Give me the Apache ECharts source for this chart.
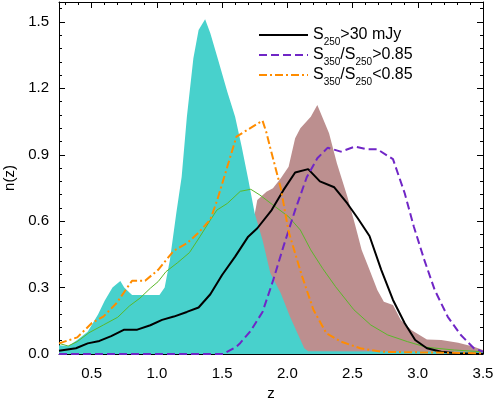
<!DOCTYPE html>
<html>
<head>
<meta charset="utf-8">
<script src="https://cdn.jsdelivr.net/npm/echarts@6/dist/echarts.min.js"></script>
<style>html,body{margin:0;padding:0;background:#fff}#c{width:495px;height:398px}</style>
</head>
<body>
<div id="c"></div>
<script>
// ---- data ----
var xMajorTicks = [0.5, 1.0, 1.5, 2.0, 2.5, 3.0, 3.5];
var yMajorTicks = [0.0, 0.3, 0.6, 0.9, 1.2, 1.5];

var cyanZ = [0.25,0.32,0.39,0.47,0.55,0.60,0.66,0.72,0.75,0.81,0.92,1.02,1.06,1.10,1.15,1.19,1.23,1.28,1.32,1.37,1.41,1.47,1.54,1.60,1.65,1.70,1.75,1.81,1.87,1.95,2.02,2.09,2.13,2.16,3.50];
var cyanN = [0.04,0.035,0.063,0.10,0.18,0.24,0.30,0.33,0.30,0.267,0.267,0.267,0.30,0.425,0.64,0.80,1.07,1.336,1.464,1.512,1.449,1.328,1.185,1.072,0.937,0.79,0.636,0.515,0.365,0.274,0.169,0.078,0.026,0.012,0.010];

var brownZ = [1.70,1.74,1.77,1.84,1.89,1.95,2.01,2.06,2.10,2.18,2.23,2.32,2.38,2.46,2.52,2.57,2.63,2.69,2.74,2.81,2.87,2.95,3.07,3.18,3.31,3.43,3.50];
var brownN = [0.0,0.60,0.696,0.733,0.749,0.794,0.846,0.975,1.02,1.072,1.125,0.997,0.862,0.711,0.583,0.47,0.38,0.289,0.236,0.221,0.154,0.108,0.066,0.063,0.051,0.033,0.018];

var allZ = [0.25,0.38,0.47,0.56,0.65,0.75,0.85,0.95,1.04,1.13,1.23,1.32,1.41,1.50,1.60,1.70,1.77,1.88,1.97,2.06,2.16,2.25,2.36,2.46,2.54,2.63,2.72,2.81,2.90,2.98,3.07,3.18,3.30,3.50];
var allN = [0.015,0.026,0.048,0.059,0.081,0.11,0.11,0.13,0.154,0.169,0.19,0.21,0.27,0.357,0.44,0.53,0.568,0.65,0.74,0.82,0.835,0.78,0.753,0.68,0.613,0.533,0.38,0.244,0.139,0.063,0.026,0.01,0.003,0.0];

var hiZ = [0.25,1.51,1.61,1.64,1.72,1.81,1.89,1.97,2.06,2.15,2.23,2.31,2.41,2.52,2.61,2.69,2.81,2.90,2.97,3.05,3.13,3.23,3.33,3.43,3.50];
var hiN = [0.0,0.0,0.033,0.05,0.105,0.19,0.33,0.485,0.65,0.80,0.884,0.932,0.914,0.937,0.925,0.925,0.88,0.726,0.575,0.425,0.289,0.168,0.086,0.026,0.01];

var loZ = [0.25,0.39,0.50,0.59,0.69,0.81,0.91,1.01,1.13,1.23,1.32,1.41,1.46,1.61,1.81,1.84,1.87,1.95,2.01,2.11,2.20,2.30,2.41,2.56,2.72,3.50];
var loN = [0.048,0.075,0.139,0.169,0.229,0.331,0.331,0.38,0.467,0.50,0.548,0.608,0.69,0.982,1.054,1.0,0.93,0.749,0.553,0.357,0.20,0.093,0.056,0.026,0.01,0.003];

var greenZ = [0.25,0.32,0.39,0.48,0.59,0.70,0.79,0.87,0.95,1.01,1.07,1.16,1.25,1.33,1.41,1.46,1.54,1.64,1.72,1.79,1.89,2.01,2.10,2.18,2.27,2.37,2.51,2.64,2.77,2.92,3.07,3.28,3.50];
var greenN = [0.048,0.036,0.056,0.096,0.131,0.166,0.217,0.252,0.297,0.327,0.372,0.413,0.458,0.53,0.605,0.65,0.68,0.735,0.744,0.718,0.673,0.62,0.56,0.47,0.387,0.304,0.20,0.131,0.086,0.056,0.03,0.018,0.01];

var legendNames = ['S250>30 mJy', 'S350/S250>0.85', 'S350/S250<0.85'];
var legendRich = {
  'S250>30 mJy': '{s|S}{b|250}{s|>30 mJy}',
  'S350/S250>0.85': '{s|S}{b|350}{s|/S}{b|250}{s|>0.85}',
  'S350/S250<0.85': '{s|S}{b|350}{s|/S}{b|250}{s|<0.85}'
};

// ---- build ----
function zip(a, b) { return a.map(function (v, i) { return [v, b[i]]; }); }
function steps(from, to, step) { var r = []; for (var v = from; v <= to + 1e-9; v += step) r.push(Math.round(v * 1000) / 1000); return r; }
var xMinor = steps(0.3, 3.4, 0.1);
var yMinor = steps(0.06, 1.56, 0.06);
var FONT = 'Liberation Sans';

function xAx(pos, major, labels) {
  return {
    type: 'value', min: 0.25, max: 3.5, position: pos,
    axisLine: { show: major, onZero: false, lineStyle: { color: '#000', width: 1 } },
    splitLine: { show: false },
    axisTick: { show: true, inside: true, length: major ? 6 : 3, lineStyle: { color: '#000', width: 1 }, customValues: major ? xMajorTicks : xMinor },
    axisLabel: labels ? { show: true, customValues: xMajorTicks, formatter: function (v) { return v.toFixed(1); }, color: '#000', fontFamily: FONT, fontSize: 15, margin: 12 } : { show: false },
    name: labels ? 'z' : '', nameLocation: 'middle', nameGap: 31,
    nameTextStyle: { color: '#000', fontFamily: FONT, fontSize: 15 }
  };
}
function yAx(pos, major, labels) {
  return {
    type: 'value', min: 0, max: 1.59, position: pos,
    axisLine: { show: major, onZero: false, lineStyle: { color: '#000', width: 1 } },
    splitLine: { show: false },
    axisTick: { show: true, inside: true, length: major ? 6 : 3, lineStyle: { color: '#000', width: 1 }, customValues: major ? yMajorTicks : yMinor },
    axisLabel: labels ? { show: true, customValues: yMajorTicks, formatter: function (v) { return v.toFixed(1); }, color: '#000', fontFamily: FONT, fontSize: 15, margin: 10 } : { show: false },
    name: labels ? 'n(z)' : '', nameLocation: 'middle', nameGap: 37,
    nameTextStyle: { color: '#000', fontFamily: FONT, fontSize: 15 }
  };
}

var rich = {
  s: { fontSize: 16, fontFamily: FONT, color: '#000', lineHeight: 17, verticalAlign: 'middle' },
  b: { fontSize: 10, fontFamily: FONT, color: '#000', lineHeight: 10, verticalAlign: 'bottom', padding: [0, 0, -4, 0] }
};
function legendAt(name, top) {
  return {
    data: [name], left: 258, top: top, orient: 'vertical', padding: 0,
    itemWidth: 49, itemHeight: 16, itemGap: 0,
    itemStyle: { color: 'rgba(0,0,0,0)', borderWidth: 0, opacity: 0 },
    formatter: function (n) { return legendRich[n]; }, textStyle: { rich: rich }
  };
}

function lineS(name, z, n, color, width, type) {
  return {
    name: name, type: 'line', data: zip(z, n), symbol: 'none', smooth: false,
    lineStyle: { color: color, width: width, type: type }, itemStyle: { color: color },
    silent: true, z: 5
  };
}
function areaS(name, z, n, color, zz) {
  return {
    name: name, type: 'line', data: zip(z, n), symbol: 'none', smooth: false,
    lineStyle: { width: 0, color: color }, areaStyle: { color: color, opacity: 1 },
    itemStyle: { color: color }, silent: true, z: zz
  };
}

var option = {
  animation: false,
  backgroundColor: '#fff',
  grid: { left: 59, right: 12, top: 2, bottom: 44, containLabel: false, outerBoundsMode: 'none' },
  xAxis: [xAx('bottom', true, true), xAx('bottom', false, false), xAx('top', true, false), xAx('top', false, false)],
  yAxis: [yAx('left', true, true), yAx('left', false, false), yAx('right', true, false), yAx('right', false, false)],
  legend: [legendAt(legendNames[0], 27), legendAt(legendNames[1], 47), legendAt(legendNames[2], 67)],
  series: [
    areaS('brown', brownZ, brownN, '#bc8f8f', 1),
    areaS('cyan', cyanZ, cyanN, '#48d1cc', 2),
    lineS('green', greenZ, greenN, '#5ab82a', 1, 'solid'),
    lineS(legendNames[0], allZ, allN, '#000000', 2, 'solid'),
    lineS(legendNames[1], hiZ, hiN, '#7026c6', 2, [8, 4]),
    lineS(legendNames[2], loZ, loN, '#ff8c00', 2, [8, 3, 2, 3])
  ]
};
var chart = echarts.init(document.getElementById('c'), null, { renderer: 'canvas' });
chart.setOption(option);
</script>
</body>
</html>
